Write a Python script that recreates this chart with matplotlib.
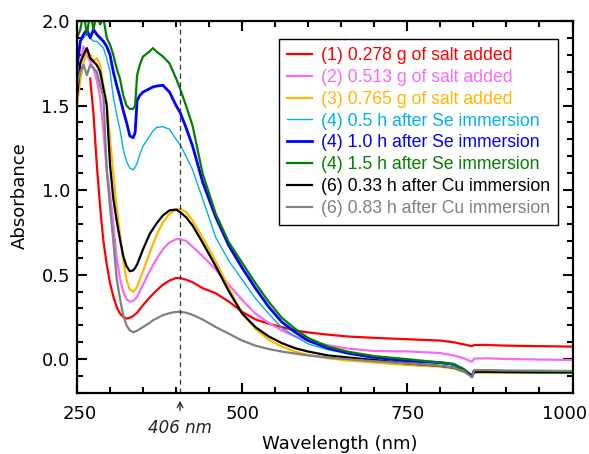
import matplotlib
matplotlib.use("Agg")
import matplotlib.pyplot as plt
from matplotlib.ticker import MultipleLocator, FormatStrFormatter
from matplotlib.transforms import ScaledTranslation

nan = float('nan')

# Wavelength grid (nm)
wl = [250, 255, 260, 265, 270, 275, 280, 285, 290, 295, 300, 305, 310, 315, 320,
      325, 330, 335, 338, 341, 345, 350, 360, 365, 370, 380, 390, 400, 406, 415,
      425, 440, 460, 480, 500, 520, 540, 560, 580, 600, 630, 660, 700, 750, 800,
      820, 835, 848, 851, 870, 900, 950, 1000]

# Absorbance spectra
salt_0278 = [nan, nan, nan, nan, 1.66, 1.45, 1.15, 0.90, 0.70, 0.56, 0.45, 0.37, 0.31, 0.27, 0.25,
             0.24, 0.245, 0.255, 0.265, 0.275, 0.295, 0.32, 0.365, 0.385, 0.405, 0.44, 0.465, 0.48, 0.48, 0.47,
             0.455, 0.42, 0.39, 0.34, 0.28, 0.235, 0.21, 0.19, 0.17, 0.158, 0.145, 0.134, 0.126, 0.118, 0.11,
             0.10, 0.088, 0.077, 0.084, 0.084, 0.08, 0.077, 0.074]
salt_0513 = [1.55, 1.75, 1.85, 1.80, 1.76, 1.72, 1.65, 1.55, 1.35, 1.12, 0.98, 0.80, 0.60, 0.48, 0.40,
             0.355, 0.34, 0.345, 0.355, 0.37, 0.40, 0.44, 0.52, 0.555, 0.59, 0.65, 0.69, 0.71, 0.71, 0.70,
             0.665, 0.61, 0.53, 0.44, 0.35, 0.27, 0.215, 0.17, 0.135, 0.108, 0.082, 0.063, 0.048, 0.046, 0.036,
             0.022, 0.006, -0.016, 0.003, 0.005, 0.001, -0.002, -0.005]
salt_0765 = [1.50, 1.65, 1.75, 1.82, 1.80, 1.76, 1.78, 1.74, 1.62, 1.52, 1.30, 1.10, 0.90, 0.74, 0.58,
             0.47, 0.41, 0.40, 0.41, 0.43, 0.47, 0.52, 0.63, 0.68, 0.73, 0.81, 0.86, 0.885, 0.89, 0.87,
             0.82, 0.72, 0.58, 0.42, 0.27, 0.18, 0.115, 0.075, 0.045, 0.025, 0.005, -0.008, -0.02, -0.035, -0.045,
             -0.055, -0.075, -0.10, -0.08, -0.08, -0.08, -0.08, -0.08]
se_05h = [1.80, 1.88, 1.90, 1.92, 1.90, 1.88, 1.88, 1.86, 1.84, 1.78, 1.70, 1.55, 1.45, 1.36, 1.24,
          1.17, 1.13, 1.12, 1.135, 1.16, 1.21, 1.26, 1.32, 1.35, 1.37, 1.375, 1.36, 1.30, 1.27, 1.20,
          1.12, 0.95, 0.72, 0.58, 0.47, 0.36, 0.27, 0.185, 0.135, 0.09, 0.055, 0.035, 0.01, -0.01, -0.025,
          -0.035, -0.06, -0.10, -0.065, -0.068, -0.07, -0.072, -0.075]
se_10h = [1.72, 1.88, 1.92, 1.95, 1.90, 1.95, 1.92, 1.90, 1.88, 1.85, 1.80, 1.70, 1.62, 1.55, 1.47,
          1.40, 1.32, 1.31, 1.34, 1.53, 1.56, 1.58, 1.60, 1.61, 1.615, 1.62, 1.58, 1.50, 1.46, 1.37,
          1.26, 1.05, 0.84, 0.67, 0.54, 0.42, 0.31, 0.22, 0.16, 0.11, 0.065, 0.035, 0.01, -0.01, -0.02,
          -0.03, -0.06, -0.10, -0.07, -0.07, -0.072, -0.075, -0.075]
se_15h = [1.90, 1.95, 2.05, 1.92, 2.05, 1.95, 2.05, 1.98, 2.02, 1.90, 1.86, 1.80, 1.72, 1.66, 1.56,
          1.50, 1.48, 1.48, 1.50, 1.68, 1.74, 1.79, 1.82, 1.84, 1.82, 1.79, 1.75, 1.66, 1.60, 1.50,
          1.38, 1.10, 0.86, 0.69, 0.57, 0.45, 0.34, 0.245, 0.18, 0.125, 0.075, 0.044, 0.018, 0.0, -0.02,
          -0.03, -0.06, -0.10, -0.075, -0.075, -0.078, -0.08, -0.08]
cu_033h = [1.55, 1.75, 1.80, 1.84, 1.78, 1.76, 1.74, 1.70, 1.60, 1.50, 1.15, 0.95, 0.82, 0.71, 0.61,
           0.55, 0.52, 0.525, 0.54, 0.56, 0.60, 0.65, 0.74, 0.77, 0.80, 0.85, 0.88, 0.885, 0.87, 0.84,
           0.79, 0.69, 0.55, 0.40, 0.27, 0.19, 0.135, 0.095, 0.065, 0.045, 0.022, 0.01, -0.005, -0.025, -0.04,
           -0.05, -0.07, -0.10, -0.075, -0.075, -0.075, -0.075, -0.075]
cu_083h = [1.62, 1.70, 1.74, 1.68, 1.74, 1.72, 1.70, 1.62, 1.55, 1.12, 0.90, 0.70, 0.48, 0.36, 0.26,
           0.20, 0.17, 0.16, 0.163, 0.168, 0.178, 0.19, 0.215, 0.23, 0.24, 0.26, 0.272, 0.28, 0.28, 0.275,
           0.262, 0.235, 0.19, 0.15, 0.11, 0.08, 0.06, 0.045, 0.033, 0.022, 0.01, 0.0, -0.012, -0.025, -0.04,
           -0.05, -0.07, -0.108, -0.065, -0.065, -0.067, -0.068, -0.07]

spectra = [salt_0278, salt_0513, salt_0765, se_05h, se_10h, se_15h, cu_033h, cu_083h]
labels = ['(1) 0.278 g of salt added',
          '(2) 0.513 g of salt added',
          '(3) 0.765 g of salt added',
          '(4) 0.5 h after Se immersion',
          '(4) 1.0 h after Se immersion',
          '(4) 1.5 h after Se immersion',
          '(6) 0.33 h after Cu immersion',
          '(6) 0.83 h after Cu immersion']
colors = ['#ff0000', '#f76af7', '#ffb600', '#00b0f0', '#0000ff', '#008000', '#000000', '#808080']
widths = [1.6, 1.6, 1.6, 1.0, 2.0, 1.6, 1.6, 1.6]

peak_wl = 406

fig = plt.figure(figsize=(5.89, 4.54), dpi=100)
ax = fig.add_axes([0.1307, 0.1344, 0.8413, 0.8193])

for y, lab, c, lw in zip(spectra, labels, colors, widths):
    ax.plot(wl, y, color=c, lw=lw, label=lab)

ax.axvline(peak_wl, color='#333333', lw=0.9, ls=(0, (4, 3)))

ax.set_xlim(250, 1000)
ax.set_ylim(-0.2, 2.0)
ax.xaxis.set_major_locator(MultipleLocator(250))
ax.xaxis.set_minor_locator(MultipleLocator(50))
ax.yaxis.set_major_locator(MultipleLocator(0.5))
ax.yaxis.set_minor_locator(MultipleLocator(0.1))
ax.yaxis.set_major_formatter(FormatStrFormatter('%.1f'))
ax.tick_params(which='both', direction='in', top=True, right=True, width=1.5, labelsize=13)
ax.tick_params(which='major', length=7)
ax.tick_params(which='minor', length=4)
ax.tick_params(axis='x', pad=9)
ax.tick_params(axis='y', pad=5)
for s in ax.spines.values():
    s.set_linewidth(1.6)

# nudge the end labels inward like the original
fig.canvas.draw()
for tick in ax.xaxis.get_major_ticks():
    if abs(tick.get_loc() - 250) < 1:
        tick.label1.set_transform(tick.label1.get_transform() +
                                  ScaledTranslation(3 / 100, 0, fig.dpi_scale_trans))
    elif abs(tick.get_loc() - 1000) < 1:
        tick.label1.set_transform(tick.label1.get_transform() +
                                  ScaledTranslation(-8 / 100, 0, fig.dpi_scale_trans))

ax.set_xlabel('Wavelength (nm)', fontsize=13, labelpad=8, x=0.531)
ax.set_ylabel('Absorbance', fontsize=13, labelpad=9, y=0.53)

# arrow marking the peak below the axis
ax.annotate('', xy=(peak_wl, -0.23), xytext=(peak_wl, -0.32),
            arrowprops=dict(arrowstyle='->', color='#222222', lw=0.9),
            annotation_clip=False)
ax.text(peak_wl, -0.41, '406 nm', ha='center', va='center', fontsize=12,
        style='italic', color='#222222', clip_on=False)

leg = ax.legend(loc='upper right', bbox_to_anchor=(0.971, 0.952), borderaxespad=0,
                prop={'family': 'Liberation Sans', 'size': 12.7},
                labelcolor='linecolor', fancybox=False, framealpha=1,
                edgecolor='black', handlelength=1.4, handletextpad=0.5,
                labelspacing=0.27, borderpad=0.48)
leg.get_frame().set_linewidth(1.0)

fig.savefig('out.png', dpi=100)
